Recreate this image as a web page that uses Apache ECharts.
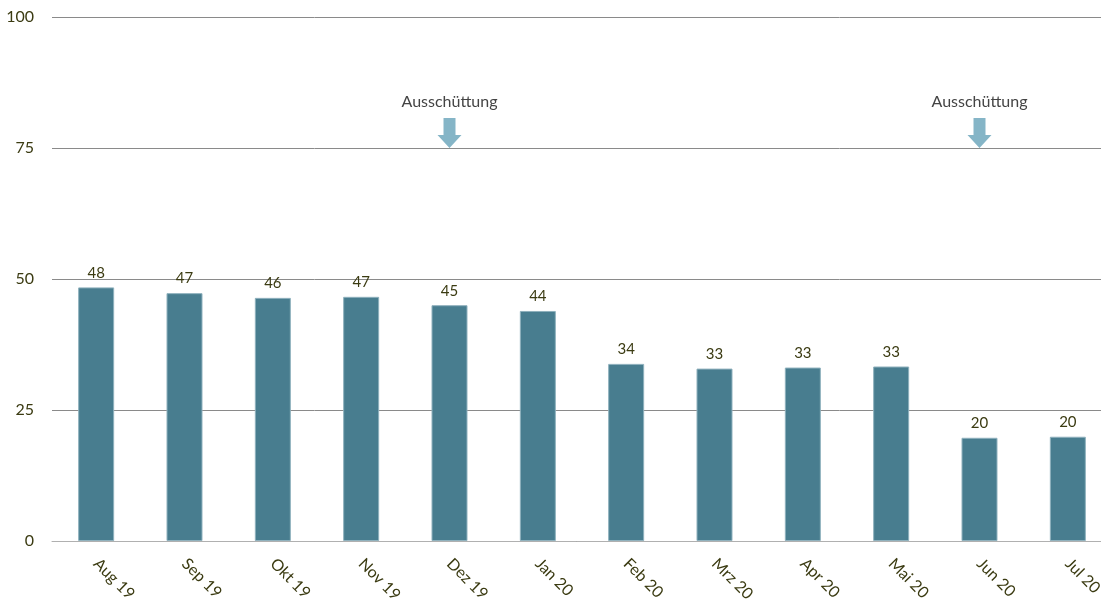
<!DOCTYPE html>
<html>
<head>
<meta charset="utf-8">
<script src="https://cdn.jsdelivr.net/npm/echarts@6/dist/echarts.min.js"></script>
<style>html,body{margin:0;padding:0;background:#fff}#c{width:1101px;height:605px}</style>
</head>
<body>
<div id="c"></div>
<script>
const categories = ['Aug 19','Sep 19','Okt 19','Nov 19','Dez 19','Jan 20','Feb 20','Mrz 20','Apr 20','Mai 20','Jun 20','Jul 20'];
const values = [48.4, 47.3, 46.4, 46.6, 45.0, 43.9, 33.8, 32.9, 33.1, 33.3, 19.7, 19.9];
const yTicks = [0, 25, 50, 75, 100];
const annotations = [{cat: 'Dez 19', y: 75, text: 'Ausschüttung'}, {cat: 'Jun 20', y: 75, text: 'Ausschüttung'}];

const textColor = '#3b3b12';
const font = 'Lato, "Open Sans", sans-serif';
const chart = echarts.init(document.getElementById('c'));
chart.setOption({
  animation: false,
  grid: {left: 52, top: 17, width: 1060, height: 524, outerBoundsMode: 'none', containLabel: false},
  xAxis: {
    type: 'category',
    data: categories,
    axisTick: {show: false},
    axisLine: {lineStyle: {color: '#b0b0b0', width: 1}},
    axisLabel: {rotate: -45, color: textColor, fontSize: 16, fontFamily: font, margin: 20}
  },
  yAxis: {
    type: 'value', min: yTicks[0], max: yTicks[yTicks.length-1], interval: 25,
    axisLine: {show: false}, axisTick: {show: false},
    axisLabel: {color: textColor, fontSize: 16, fontFamily: font, margin: 18},
    splitLine: {lineStyle: {color: '#8a8a8a', width: 1}}
  },
  series: [{
    type: 'bar',
    data: values,
    barWidth: 36,
    itemStyle: {color: '#487d8f', borderColor: '#8fb1bd', borderWidth: 1},
    label: {show: true, position: 'top', distance: 7, color: textColor, fontSize: 15, fontFamily: font,
      formatter: p => Math.round(p.value)},
    markPoint: {
      symbol: 'path://M6,0 L18,0 L18,17 L24,17 L12,30 L0,17 L6,17 Z',
      symbolSize: [24, 30],
      symbolOffset: [0, -15],
      itemStyle: {color: '#85b5c7'},
      label: {show: true, position: 'top', distance: 8, color: '#444444', fontSize: 16, fontFamily: font,
        formatter: p => p.name},
      data: annotations.map(a => ({name: a.text, coord: [a.cat, a.y]}))
    }
  }]
});
</script>
</body>
</html>
